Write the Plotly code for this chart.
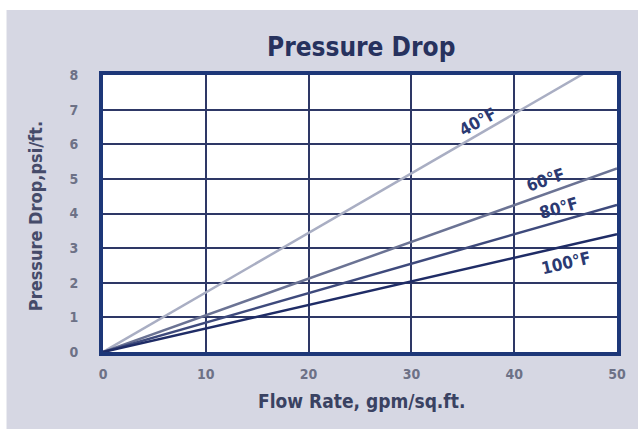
import plotly.graph_objects as go

# Flow rate (gpm/sq.ft.) and pressure drop (psi/ft.) for each water temperature
flow = [0, 50]
temps = ["40°F", "60°F", "80°F", "100°F"]
drop_40 = [0, 8.6]
drop_60 = [0, 5.3]
drop_80 = [0, 4.25]
drop_100 = [0, 3.4]
x_ticks = [0, 10, 20, 30, 40, 50]
y_ticks = [0, 1, 2, 3, 4, 5, 6, 7, 8]

series = [drop_40, drop_60, drop_80, drop_100]
colors = ["#a9aec3", "#6b7394", "#3e4a7c", "#1f2c66"]

# label placement (flow, drop, angle) beside each curve
label_pos = [(36.4, 6.65, -29), (43.0, 4.97, -19), (44.3, 4.16, -16), (45.0, 2.57, -13)]

cond = "DejaVu Sans Condensed, DejaVu Sans, sans-serif"
navy = "#27325e"

fig = go.Figure()
for name, ys, c in zip(temps, series, colors):
    fig.add_trace(go.Scatter(x=flow, y=ys, mode="lines", name=name,
                             line=dict(color=c, width=2.5), cliponaxis=True))

for name, (lx, ly, ang) in zip(temps, label_pos):
    fig.add_annotation(x=lx, y=ly, text=name, showarrow=False, textangle=ang,
                       font=dict(family=cond, size=17, color="#2b3a72", weight="bold"))

# chart and axis titles
fig.add_annotation(x=0.502, y=1.101, xref="paper", yref="paper", text="Pressure Drop",
                   xanchor="center", yanchor="middle", showarrow=False,
                   font=dict(family=cond, size=26, color=navy, weight="bold"))
fig.add_annotation(x=0.502, y=-0.176, xref="paper", yref="paper", text="Flow Rate, gpm/sq.ft.",
                   xanchor="center", yanchor="middle", showarrow=False,
                   font=dict(family=cond, size=19, color="#3a4262", weight="bold"))
fig.add_annotation(x=-0.130, y=0.491, xref="paper", yref="paper", text="Pressure Drop,psi/ft.",
                   xanchor="center", yanchor="middle", showarrow=False, textangle=-90,
                   font=dict(family=cond, size=18, color="#454b6a", weight="bold"))

# white strips around the grey panel
fig.add_shape(type="rect", xref="paper", yref="paper", x0=-0.3, x1=1.1, y0=1.2347, y1=1.3,
              fillcolor="white", line=dict(width=0), layer="below")
fig.add_shape(type="rect", xref="paper", yref="paper", x0=-0.3, x1=-0.1877, y0=-0.3, y1=1.3,
              fillcolor="white", line=dict(width=0), layer="below")

axis_common = dict(showline=True, mirror=True, linecolor="#1d3778", linewidth=4,
                   showgrid=True, gridcolor="#2e3866", gridwidth=2, zeroline=False,
                   ticks="", fixedrange=True,
                   tickfont=dict(family=cond, size=14, color="#6d7186", weight="bold"))

fig.update_xaxes(range=[0, 50], tickvals=x_ticks, ticklabelstandoff=6, **axis_common)
fig.update_yaxes(range=[0, 8], tickvals=y_ticks, ticklabelstandoff=18, **axis_common)

fig.update_layout(width=638, height=429, showlegend=False,
                  margin=dict(l=103, r=13, t=75, b=77),
                  paper_bgcolor="#d6d7e3", plot_bgcolor="white")

fig.write_html("out.html")
